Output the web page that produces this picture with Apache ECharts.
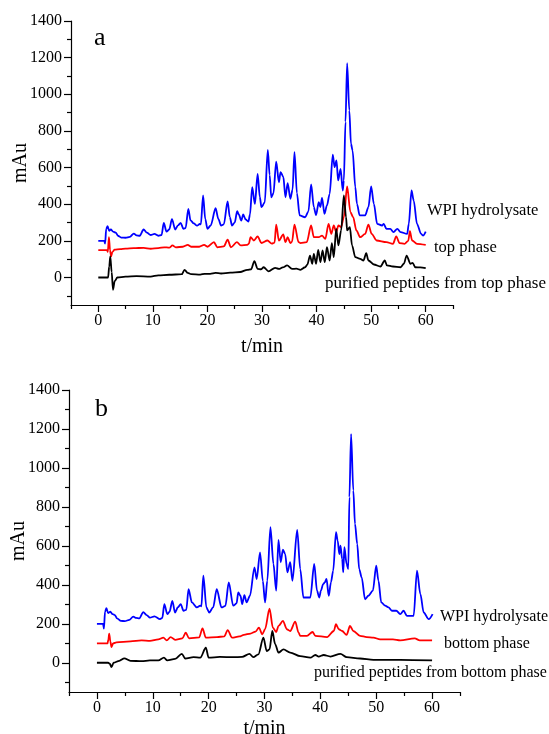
<!DOCTYPE html>
<html>
<head>
<meta charset="utf-8">
<script src="https://cdn.jsdelivr.net/npm/echarts@6/dist/echarts.min.js"></script>
<style>
  html, body { margin: 0; background: #fff; }
  #chart { width: 549px; height: 734px; }
</style>
</head>
<body>
<div id="chart"></div>
<script>
// tick values
const timeTicks = [0, 10, 20, 30, 40, 50, 60];
const timeMinorTicks = [-5, 5, 15, 25, 35, 45, 55, 65];
const mauTicks = [0, 200, 400, 600, 800, 1000, 1200, 1400];
const mauMinorTicks = [-100, 100, 300, 500, 700, 900, 1100, 1300];

// panel a: [t/min, mAu]
const wpiA = [[0,200],[1.1,200],[1.25,185],[1.45,265],[1.7,280],[2.0,255],[2.3,262],[2.7,250],[3.2,245],[3.6,228],[4.2,218],[5.0,217],[5.8,222],[6.5,240],[7.0,230],[7.6,228],[8.3,262],[8.9,245],[9.6,232],[10.3,238],[11.0,228],[11.6,232],[12.0,298],[12.5,250],[13.0,262],[13.5,318],[14.1,262],[14.6,285],[15.1,298],[15.6,266],[16.0,270],[16.5,375],[16.9,312],[17.5,295],[18.1,283],[18.6,292],[18.8,290],[19.2,448],[19.6,320],[20.0,266],[20.6,284],[21.5,378],[22.0,320],[22.5,284],[23.0,290],[23.7,415],[24.1,330],[24.5,284],[25.0,300],[25.45,362],[25.75,344],[26.2,310],[26.55,344],[27.0,317],[27.5,305],[27.8,344],[28.2,493],[28.7,402],[29.2,566],[29.6,440],[29.9,384],[30.5,410],[31.06,697],[31.4,560],[31.7,438],[32.1,460],[32.6,633],[33.1,520],[33.4,575],[33.9,550],[34.3,438],[34.7,515],[35.2,430],[35.6,480],[35.95,684],[36.4,460],[36.9,339],[37.9,329],[38.5,360],[39.0,508],[39.5,384],[39.9,340],[40.4,411],[40.7,384],[41.0,435],[41.45,348],[41.9,393],[42.4,457],[42.97,671],[43.3,602],[43.65,639],[43.95,530],[44.4,593],[44.8,475],[45.0,530],[45.3,850],[45.6,1170],[46.0,912],[46.3,730],[46.6,693],[47.1,493],[47.4,402],[47.9,339],[48.9,339],[49.5,384],[50.0,497],[50.5,402],[51.1,293],[52.0,284],[52.3,293],[52.8,266],[53.5,266],[54.1,248],[54.8,266],[55.4,248],[56.6,238],[56.9,293],[57.4,475],[57.8,420],[58.4,293],[59.15,238],[59.5,229],[60,251]];
const topPhase = [[0,150],[1.6,150],[1.75,140],[1.95,220],[2.15,150],[2.35,115],[2.6,140],[3.0,152],[4.0,155],[5.0,158],[6.5,160],[8.3,162],[9.6,157],[11,160],[12.1,165],[13.0,163],[13.6,175],[14.2,165],[15.5,168],[16.4,178],[17,168],[18.5,168],[19.4,178],[20,168],[21.2,193],[21.8,165],[23.0,170],[23.7,206],[24.3,165],[25.4,193],[26.1,175],[27.3,178],[27.6,185],[27.9,220],[28.5,202],[29.2,224],[29.9,188],[31.0,202],[31.8,185],[32.3,190],[32.6,289],[33.1,202],[33.9,235],[34.3,193],[34.7,220],[35.2,188],[35.5,195],[35.95,289],[36.7,193],[37.05,188],[38.2,193],[39.0,284],[39.5,220],[40.4,220],[41,229],[41.6,211],[42.2,293],[42.7,238],[43.15,284],[43.6,248],[44.0,284],[44.5,275],[45.0,329],[45.6,497],[46.2,357],[46.7,329],[47.3,257],[48,220],[48.9,238],[49.5,289],[50.1,238],[51,202],[52.8,193],[54,184],[54.6,224],[55.2,188],[56.1,184],[56.8,200],[57.1,253],[57.5,202],[58.4,184],[60,178]];
const purifiedTop = [[0,0],[1.8,0],[2.0,60],[2.2,115],[2.45,30],[2.7,-67],[3.0,-20],[3.5,0],[5,5],[7,8],[9.6,5],[11,12],[13,15],[15.3,18],[15.8,42],[16.4,25],[17,18],[18.7,16],[19.5,20],[20.5,20],[21.5,25],[22.5,22],[24.2,27],[26,30],[27.3,42],[28.0,45],[28.6,89],[29.2,47],[29.8,45],[30.3,56],[31.2,34],[32.4,53],[33.1,47],[33.8,55],[34.6,66],[35.5,47],[36.3,48],[37.05,42],[37.9,56],[38.3,70],[38.8,120],[39.2,75],[39.5,129],[39.9,75],[40.3,151],[40.7,84],[41.1,148],[41.5,84],[41.9,166],[42.4,93],[42.8,188],[43.15,111],[43.6,266],[44.0,175],[44.5,257],[45.0,448],[45.4,329],[45.6,257],[46.1,275],[46.5,175],[47.1,111],[48,102],[48.6,93],[49.1,133],[49.5,93],[50.5,71],[51.7,60],[52.5,93],[52.9,66],[54,60],[55.4,56],[56,75],[56.5,120],[57.2,75],[57.6,80],[58.1,56],[59,55],[60,51]];

// panel b
const wpiB = [[0,200],[1.1,200],[1.25,175],[1.45,262],[1.7,280],[2.0,255],[2.4,262],[2.8,250],[3.2,245],[3.6,228],[4.3,215],[5.0,214],[5.8,220],[6.5,237],[7.0,230],[7.6,228],[8.3,260],[8.9,245],[9.5,232],[10.3,238],[11.3,224],[11.7,230],[12.07,301],[12.6,250],[13.0,262],[13.5,318],[13.98,258],[14.5,285],[15.0,301],[15.5,267],[16.0,272],[16.4,378],[17.0,310],[17.9,284],[18.5,293],[18.7,290],[19.05,447],[19.6,284],[20.1,258],[20.8,284],[21.45,378],[22.3,284],[23.0,292],[23.6,412],[24.4,293],[25.0,305],[25.3,361],[25.7,344],[26.0,301],[26.4,347],[26.8,310],[27.4,344],[28.2,490],[28.6,430],[29.2,567],[29.7,420],[30.1,310],[30.5,421],[31.06,696],[31.6,507],[32.1,370],[32.5,631],[32.9,516],[33.3,580],[33.7,558],[34.1,464],[34.6,516],[35.0,421],[35.85,682],[36.4,480],[36.97,335],[38.2,335],[38.9,507],[39.4,370],[39.8,335],[40.1,370],[40.5,404],[40.8,413],[41.1,430],[41.5,344],[41.9,413],[42.3,473],[42.8,670],[43.1,627],[43.4,558],[43.6,601],[43.9,533],[44.1,464],[44.3,593],[44.7,507],[45.0,481],[45.2,850],[45.5,1174],[45.9,885],[46.2,713],[46.6,610],[46.95,481],[47.4,438],[48.0,326],[48.6,344],[49.4,370],[50.0,498],[50.4,421],[50.9,310],[51.6,293],[52.2,284],[52.8,267],[53.6,267],[54.3,250],[54.9,267],[55.5,241],[56.7,241],[57.3,473],[57.9,353],[58.5,258],[59.4,224],[60.1,250]];
const bottomPhase = [[0,100],[1.9,100],[2.05,120],[2.2,150],[2.4,110],[2.6,81],[2.9,100],[3.5,105],[6,110],[8,115],[9.5,112],[11,120],[11.9,129],[12.5,115],[13.2,132],[14,118],[15.3,125],[15.9,155],[16.5,125],[18.3,130],[18.9,177],[19.5,129],[21.5,132],[22.8,135],[23.4,168],[24.2,129],[25.5,135],[26.3,143],[27.5,150],[28.4,160],[29.0,180],[29.6,146],[30.1,172],[30.9,278],[31.5,180],[32.1,158],[32.5,189],[33.3,215],[34.0,172],[34.6,163],[35.5,211],[36.1,155],[36.4,138],[37.6,138],[38.6,158],[39.1,138],[41.2,132],[42.4,163],[42.8,198],[43.3,172],[43.9,163],[44.7,143],[45.3,189],[45.9,163],[47.1,138],[48.3,132],[49.5,129],[50.7,120],[53,120],[54.3,115],[56.9,125],[57.8,115],[60,115]];
const purifiedBottom = [[0,0],[2.0,0],[2.3,-5],[2.6,-22],[3.0,0],[4.0,10],[4.9,23],[6,10],[8,8],[9.5,12],[11,12],[12.0,26],[12.6,12],[14.0,20],[15.2,46],[15.8,22],[17.3,29],[18.5,26],[19.5,77],[20.0,26],[22,30],[24.4,29],[26.0,30],[27.3,46],[28.0,29],[28.9,43],[29.8,129],[30.4,60],[30.9,69],[31.4,163],[31.9,96],[32.5,52],[33.4,69],[34.6,52],[36.4,34],[38.2,26],[39.1,40],[39.7,32],[40.6,40],[41.8,32],[43.6,46],[44.7,29],[47.1,22],[49.5,15],[54.3,15],[60,12]];

const serif = "'Liberation Serif', 'Times New Roman', serif";
const black = { color: "#000", width: 1.2 };

function xAxes(g, gap) {
  return [
    {
      gridIndex: g, type: "value", min: -5, max: 65, position: "bottom",
      name: "t/min", nameLocation: "middle", nameGap: gap, nameMoveOverlap: false,
      nameTextStyle: { fontFamily: serif, fontSize: 20, color: "#000" },
      axisLine: { onZero: false, lineStyle: black },
      axisTick: { customValues: timeTicks, length: 7, lineStyle: black },
      axisLabel: { customValues: timeTicks, color: "#000", fontFamily: serif, fontSize: 16, margin: 8 },
      splitLine: { show: false },
    },
    {
      gridIndex: g, type: "value", min: -5, max: 65, position: "bottom",
      axisLine: { show: false, onZero: false },
      axisTick: { customValues: timeMinorTicks, length: 4, lineStyle: black },
      axisLabel: { show: false },
      splitLine: { show: false },
    },
  ];
}
function yAxes(g) {
  return [
    {
      gridIndex: g, type: "value", min: -150, max: 1400, position: "left",
      name: "mAu", nameLocation: "middle", nameGap: 40, nameMoveOverlap: false,
      nameTextStyle: { fontFamily: serif, fontSize: 20, color: "#000" },
      axisLine: { onZero: false, lineStyle: black },
      axisTick: { customValues: mauTicks, length: 7, lineStyle: black },
      axisLabel: {
        customValues: mauTicks, color: "#000", fontFamily: serif, fontSize: 16, margin: 9,
        formatter: (v) => String(v),
      },
      splitLine: { show: false },
    },
    {
      gridIndex: g, type: "value", min: -150, max: 1400, position: "left",
      axisLine: { show: false, onZero: false },
      axisTick: { customValues: mauMinorTicks, length: 4, lineStyle: black },
      axisLabel: { show: false },
      splitLine: { show: false },
    },
  ];
}
function trace(name, data, color, g) {
  return {
    name, type: "line", data, xAxisIndex: g * 2, yAxisIndex: g * 2,
    showSymbol: false, animation: false,
    smooth: 0.3, smoothMonotone: "x",
    lineStyle: { color, width: 1.8 },
  };
}
function label(text, x, y, size) {
  return {
    type: "text", left: x, top: y,
    style: { text, fontFamily: serif, fontSize: size, fill: "#000" },
  };
}

const chart = echarts.init(document.getElementById("chart"));
chart.setOption({
  backgroundColor: "#fff",
  animation: false,
  grid: [
    { left: 71, top: 21, width: 382, height: 284, outerBoundsMode: "none" },
    { left: 69, top: 390, width: 391, height: 302, outerBoundsMode: "none" },
  ],
  xAxis: [...xAxes(0, 32), ...xAxes(1, 27)],
  yAxis: [...yAxes(0), ...yAxes(1)],
  series: [
    trace("WPI hydrolysate", wpiA, "#0000ff", 0),
    trace("top phase", topPhase, "#ff0000", 0),
    trace("purified peptides from top phase", purifiedTop, "#000000", 0),
    trace("WPI hydrolysate", wpiB, "#0000ff", 1),
    trace("bottom phase", bottomPhase, "#ff0000", 1),
    trace("purified peptides from bottom phase", purifiedBottom, "#000000", 1),
  ],
  graphic: [
    label("a", 94, 25, 26),
    label("b", 95, 396, 26),
    label("WPI hydrolysate", 427, 202, 16.5),
    label("top phase", 434, 239, 16.5),
    label("purified peptides from top phase", 325, 275, 17),
    label("WPI hydrolysate", 440, 609, 16),
    label("bottom phase", 444, 636, 16),
    label("purified peptides from bottom phase", 314, 665, 16),
  ],
});
</script>
</body>
</html>
